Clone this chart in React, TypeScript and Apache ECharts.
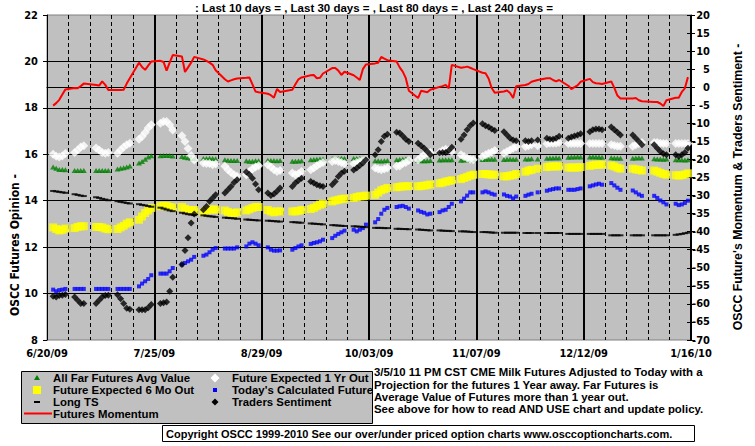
import React, { useEffect, useRef } from "react";
import * as echarts from "echarts";

// ---- x axis: days counted from 6/20/09, trading days Mon..Fri per week (null = holiday) ----
const xTickLabels = ["6/20/09", "7/25/09", "8/29/09", "10/03/09", "11/07/09", "12/12/09", "1/16/10"];
const rightTicksTitle = "OSCC Future's Momentum & Traders Sentiment -";
const leftTitle = "OSCC Futures Opinion -";
const topTitle = ": Last 10 days = , Last 30 days = , Last 80 days = , Last 240 days =";

// All Far Futures Avg Value (left axis)
const allFar = [
  15.45, 15.4, 15.35, 15.35, 15.33, 15.3, 15.3, 15.3, 15.3, null, 15.3, 15.3, 15.3, 15.3, 15.3,
  15.37, 15.4, 15.42, 15.45, 15.5, 15.62, 15.69, 15.79, 15.88, 15.94, 15.94, 15.95, 15.95, 15.95, 15.93,
  15.9, 15.87, 15.85, 15.83, 15.82, 15.82, 15.82, 15.83, 15.82, 15.81, 15.76, 15.74, 15.73, 15.73, 15.73,
  15.72, 15.7, 15.7, 15.72, 15.72, 15.74, 15.73, 15.73, 15.72, 15.73, null, 15.7, 15.7, 15.71, 15.72,
  15.76, 15.78, 15.79, 15.8, 15.8, 15.82, 15.82, 15.82, 15.83, 15.82, 15.82, 15.82, 15.83, 15.82, 15.81,
  15.72, 15.72, 15.71, 15.72, 15.73, 15.77, 15.78, 15.79, 15.8, 15.79, 15.73, 15.72, 15.72, 15.72, 15.73,
  15.75, 15.76, 15.76, 15.77, 15.76, 15.74, 15.75, 15.76, 15.76, 15.77, 15.78, 15.79, 15.79, 15.8, 15.79,
  15.78, 15.79, 15.8, 15.79, 15.79, 15.8, 15.8, 15.81, null, 15.8, 15.83, 15.84, 15.84, 15.85, 15.84,
  15.87, 15.88, 15.88, 15.89, 15.88, 15.88, 15.89, 15.88, 15.88, 15.87, 15.85, 15.84, 15.84, 15.83, null,
  15.83, 15.84, 15.85, 15.84, null, 15.81, 15.8, 15.8, 15.79, 15.8, 15.77, 15.76, 15.76, 15.75, 15.76,
];

// Future Expected 1 Yr Out (left axis)
const oneYearOut = [
  16.0, 15.92, 15.88, 15.93, 16.03, 16.08, 16.19, 16.31, 16.37, null, 16.27, 16.19, 16.08, 16.05, 16.08,
  16.05, 16.19, 16.31, 16.41, 16.48, 16.65, 16.77, 16.94, 17.13, 17.27, 17.34, 17.41, 17.41, 17.27, 17.05,
  16.8, 16.55, 16.25, 15.95, 15.75, 15.62, 15.6, 15.6, 15.55, 15.58, 15.48, 15.33, 15.22, 15.12, 15.05,
  15.12, 15.26, 15.37, 15.45, 15.51, 15.55, 15.45, 15.33, 15.26, 15.3, null, 15.19, 15.12, 15.16, 15.26,
  15.33, 15.41, 15.51, 15.59, 15.65, 15.69, 15.73, 15.69, 15.65, 15.59, 15.59, 15.65, 15.69, 15.73, 15.76,
  15.41, 15.37, 15.33, 15.37, 15.41, 15.48, 15.5, 15.6, 15.65, 15.73, 15.76, 15.88, 15.98, 16.05, 16.08,
  16.08, 16.16, 16.22, 16.19, 16.12, 15.98, 15.91, 15.84, 15.79, 15.76, 15.91, 15.98, 16.05, 16.09, 16.16,
  16.05, 16.12, 16.19, 16.26, 16.33, 16.34, 16.37, 16.41, null, 16.37, 16.45, 16.48, 16.48, 16.48, 16.51,
  16.47, 16.46, 16.46, 16.46, 16.47, 16.46, 16.46, 16.46, 16.46, 16.46, 16.41, 16.38, 16.35, 16.35, null,
  16.35, 16.41, 16.46, 16.51, null, 16.51, 16.51, 16.48, 16.46, 16.46, 16.46, 16.46, 16.46, 16.46, 16.46,
];

// Future Expected 6 Mo Out (left axis)
const sixMonthOut = [
  12.85, 12.78, 12.72, 12.75, 12.8, 12.82, 12.87, 12.9, 12.9, null, 12.87, 12.87, 12.85, 12.8, 12.77,
  12.78, 12.85, 12.92, 13.01, 13.07, 13.18, 13.32, 13.47, 13.58, 13.69, 13.76, 13.78, 13.78, 13.73, 13.71,
  13.73, 13.65, 13.6, 13.58, 13.6, 13.5, 13.58, 13.62, 13.62, 13.62, 13.58, 13.52, 13.47, 13.47, 13.5,
  13.58, 13.63, 13.69, 13.73, 13.73, 13.6, 13.54, 13.5, 13.54, 13.54, null, 13.54, 13.54, 13.56, 13.6,
  13.64, 13.69, 13.76, 13.83, 13.87, 13.97, 14.01, 14.04, 14.07, 14.09, 14.12, 14.16, 14.19, 14.19, 14.22,
  14.25, 14.35, 14.45, 14.5, 14.55, 14.58, 14.6, 14.62, 14.62, 14.63, 14.62, 14.63, 14.65, 14.67, 14.7,
  14.75, 14.78, 14.82, 14.85, 14.88, 14.93, 14.98, 15.03, 15.08, 15.12, 15.15, 15.15, 15.13, 15.12, 15.12,
  15.05, 15.05, 15.08, 15.1, 15.15, 15.25, 15.3, 15.33, null, 15.38, 15.45, 15.47, 15.48, 15.48, 15.48,
  15.43, 15.43, 15.43, 15.43, 15.45, 15.5, 15.53, 15.55, 15.55, 15.55, 15.52, 15.48, 15.42, 15.38, null,
  15.38, 15.35, 15.33, 15.3, null, 15.3, 15.25, 15.2, 15.15, 15.12, 15.1, 15.08, 15.1, 15.13, 15.18,
];

// Today's Calculated Future (left axis)
const todaysFuture = [
  10.17, 10.1, 10.15, 10.17, 10.2, 10.2, 10.2, 10.2, 10.2, null, 10.2, 10.2, 10.2, 10.2, 10.2,
  10.2, 10.2, 10.2, 10.2, 10.2, 10.31, 10.43, 10.53, 10.63, 10.79, 10.86, 10.86, 10.86, 10.96, 11.1,
  11.25, 11.32, 11.39, 11.46, 11.58, 11.63, 11.68, 11.78, 11.89, 11.96, 11.94, 11.94, 11.94, 11.94, 11.99,
  12.03, 12.15, 12.21, 12.15, 12.08, 11.99, 11.89, 11.85, 11.85, 11.86, null, 11.89, 11.96, 12.03, 12.08,
  12.14, 12.18, 12.21, 12.25, 12.32, 12.39, 12.49, 12.57, 12.64, 12.71, 12.75, 12.68, 12.75, 12.82, 12.97,
  13.07, 13.21, 13.44, 13.61, 13.69, 13.73, 13.76, 13.78, 13.73, 13.66, 13.58, 13.52, 13.48, 13.41, 13.44,
  13.51, 13.58, 13.61, 13.73, 13.87, 13.97, 14.09, 14.22, 14.36, 14.36, 14.36, 14.4, 14.36, 14.3, 14.26,
  14.27, 14.21, 14.18, 14.1, 14.18, 14.21, 14.26, 14.3, null, 14.36, 14.43, 14.47, 14.5, 14.53, 14.53,
  14.47, 14.47, 14.47, 14.5, 14.53, 14.62, 14.66, 14.7, 14.73, 14.69, 14.76, 14.66, 14.56, 14.47, null,
  14.44, 14.36, 14.27, 14.21, null, 14.21, 14.12, 14.01, 13.93, 13.84, 13.87, 13.81, 13.84, 13.9, 14.0,
];

// Long TS (left axis)
const longTS = [
  14.42, 14.4, 14.38, 14.36, 14.34, 14.28, 14.25, 14.22, 14.2, null, 14.15, 14.12, 14.08, 14.05, 14.02,
  13.98, 13.95, 13.93, 13.9, 13.88, 13.85, 13.82, 13.8, 13.77, 13.74, 13.7, 13.66, 13.62, 13.58, 13.55,
  13.48, 13.45, 13.42, 13.4, 13.38, 13.37, 13.35, 13.33, 13.32, 13.3, 13.27, 13.26, 13.25, 13.24, 13.22,
  13.19, 13.18, 13.17, 13.16, 13.15, 13.14, 13.13, 13.12, 13.11, 13.1, null, 13.08, 13.07, 13.06, 13.05,
  13.02, 13.01, 13.0, 12.99, 12.98, 12.95, 12.94, 12.93, 12.92, 12.91, 12.9, 12.89, 12.88, 12.87, 12.86,
  12.83, 12.83, 12.83, 12.82, 12.82, 12.79, 12.79, 12.78, 12.78, 12.77, 12.76, 12.75, 12.74, 12.73, 12.72,
  12.72, 12.71, 12.7, 12.7, 12.69, 12.68, 12.68, 12.67, 12.66, 12.65, 12.65, 12.65, 12.64, 12.63, 12.62,
  12.62, 12.62, 12.62, 12.62, 12.62, 12.61, 12.61, 12.61, null, 12.61, 12.61, 12.61, 12.61, 12.61, 12.61,
  12.57, 12.57, 12.57, 12.57, 12.57, 12.57, 12.57, 12.57, 12.57, 12.57, 12.51, 12.51, 12.51, 12.51, null,
  12.51, 12.51, 12.51, 12.51, null, 12.51, 12.51, 12.51, 12.51, 12.51, 12.53, 12.55, 12.57, 12.6, 12.62,
];

// Traders Sentiment (right axis)
const tradersSentiment = [
  -57.9, -58.1, -57.7, -57.6, -57.4, -58.1, -59.0, -59.9, -59.9, null, -59.9, -59.0, -58.1, -57.7, -57.6,
  -57.5, -58.6, -59.9, -61.2, -61.5, -61.6, -61.6, -61.6, -61.1, -60.2, -59.9, -59.7, -59.5, -56.5, -52.6,
  -49.1, -45.2, -41.7, -37.6, -35.1, -33.9, -33.0, -31.6, -30.7, -29.8, -29.3, -28.4, -27.5, -26.4, -25.6,
  -23.5, -24.2, -25.2, -26.8, -28.4, -29.3, -30.0, -29.6, -28.8, -27.9, null, -27.5, -26.5, -25.8, -25.2,
  -26.1, -26.5, -27.0, -27.3, -27.5, -27.0, -26.1, -24.7, -23.8, -23.3, -22.9, -22.4, -21.7, -21.0, -20.1,
  -18.7, -17.3, -15.0, -13.6, -13.0, -12.5, -12.7, -13.5, -14.4, -15.0, -15.5, -16.2, -16.9, -17.8, -18.7,
  -18.2, -18.1, -18.1, -17.5, -16.6, -14.4, -13.2, -11.8, -10.7, -9.9, -10.1, -10.7, -11.0, -11.6, -12.0,
  -12.3, -13.2, -14.1, -14.6, -14.8, -14.8, -15.0, -14.8, null, -14.6, -14.1, -14.4, -14.4, -14.1, -13.6,
  -14.1, -13.8, -13.5, -13.2, -12.9, -12.3, -11.8, -11.6, -11.6, -11.8, -11.0, -11.8, -12.5, -13.2, null,
  -13.2, -14.1, -15.0, -15.9, null, -15.9, -16.9, -17.8, -18.4, -18.7, -18.7, -19.2, -18.7, -18.1, -16.9,
];

// Futures Momentum (right axis)
const futuresMomentum = [
  -5.1, -4.4, -3.5, -2.0, -0.6, -0.2, -0.3, 0.3, 1.0, null, 0.6, 0.45, 1.6, 0.65, -0.8,
  -0.8, -0.8, -0.7, 1.0, 2.5, 6.8, 5.6, 4.8, 6.0, 7.1, 7.3, 7.0, 4.6, 6.8, 8.9,
  8.5, 4.2, 5.5, 6.8, 8.4, 7.7, 7.3, 6.8, 6.2, 4.7, 2.2, 1.6, 1.9, 2.2, 2.4,
  2.6, 2.7, 0.8, -1.2, -1.4, -1.8, -2.2, -2.9, -0.5, -1.3, null, -0.7, 0.8, 2.2, 2.7,
  3.3, 3.4, 2.5, 2.6, 3.8, 5.3, 5.3, 4.6, 3.4, 4.3, 3.3, 2.7, 2.0, 5.0, 6.3,
  6.6, 6.8, 8.4, 7.9, 7.5, 7.1, 5.5, 4.3, 2.5, -1.0, -3.0, -1.0, -1.2, -1.4, -0.7,
  0.1, 0.3, 0.65, -0.3, 6.2, 5.4, 5.5, 5.7, 5.4, 5.0, 4.0, 3.9, 2.4, -0.2, -1.5,
  -1.2, -0.9, -1.6, -3.0, 0.3, 0.6, 0.9, 1.5, null, 2.0, 2.5, 2.5, 2.0, 1.6, 2.0,
  0.4, -0.5, 0.0, 0.5, 1.5, 2.3, 1.4, 1.1, 1.0, 0.9, 1.6, -0.2, -2.3, -3.1, null,
  -3.1, -3.0, -3.6, -3.9, null, -4.1, -4.1, -4.5, -5.2, -3.6, -2.9, -2.9, -1.3, -0.3, 2.8,
];

const infoLines = [
  "3/5/10 11 PM CST CME Milk Futures Adjusted to Today with a",
  "Projection for the futures 1 Year away. Far Futures is",
  "Average Value of Futures more than 1 year out.",
  "See above for how to read AND USE chart and update policy.",
];
const copyright = "Copyright OSCC 1999-2010 See our over/under priced option charts www.osccoptioncharts.com.";

const NARROW = "'Liberation Sans Narrow', 'Arial Narrow', 'DejaVu Sans Condensed', sans-serif";
const WIDE = "'Liberation Sans', Arial, sans-serif";

// slot index -> day offset from 6/20/09 (Mon..Fri of each week)
const slotDay = (i: number) => 7 * Math.floor(i / 5) + 2 + (i % 5);
const pairs = (vals: (number | null)[]) =>
  vals.map((v, i) => (v === null ? null : [slotDay(i), v])).filter((p) => p !== null);

export default function App() {
  const ref = useRef<HTMLDivElement>(null);
  useEffect(() => {
    if (!ref.current) return;
    const chart = echarts.init(ref.current, null, { renderer: "svg" });
    const axisFont = { fontFamily: NARROW, fontWeight: "bold" as const, fontSize: 11, color: "#000" };
    const legendRows = [378, 390, 402, 413.5];
    const col1 = 37, col2 = 215;
    const txt = (t: string, font: string, align: string) => ({
      text: t, font, fill: "#000", textAlign: align, textVerticalAlign: "middle", align, verticalAlign: "middle",
    });
    const legendText = (x: number, y: number, t: string) => ({
      type: "text", x, y, style: txt(t, `bold 11.4px ${WIDE}`, "left"),
    });
    chart.setOption({
      animation: false,
      backgroundColor: "#fff",
      grid: { left: 47, right: 64, top: 15, bottom: 106, show: true, backgroundColor: "#C0C0C0", borderColor: "#808080", borderWidth: 1 },
      xAxis: {
        type: "value", min: 0, max: 210, interval: 35,
        axisLine: { lineStyle: { color: "#000", width: 1 } },
        axisTick: { show: true, length: 4, lineStyle: { color: "#000" } },
        minorTick: { show: true, splitNumber: 5, length: 3, lineStyle: { color: "#000" } },
        splitLine: { show: true, showMinLine: false, lineStyle: { color: "#000", width: 2 } },
        minorSplitLine: { show: true, lineStyle: { color: "#000", width: 1, type: [4, 3] } },
        axisLabel: { ...axisFont, margin: 8, formatter: (v: number) => xTickLabels[Math.round(v / 35)] ?? "" },
      },
      yAxis: [
        {
          type: "value", min: 8, max: 22, interval: 2, position: "left",
          axisLine: { show: true, lineStyle: { color: "#000", width: 1 } },
          axisTick: { show: true, length: 4, lineStyle: { color: "#000" } },
          splitLine: { show: true, showMinLine: false, showMaxLine: false, lineStyle: { color: "#000", width: 1 } },
          axisLabel: { ...axisFont, margin: 9 },
        },
        {
          type: "value", min: -70, max: 20, interval: 5, position: "right",
          axisLine: { show: true, lineStyle: { color: "#000", width: 1 } },
          axisTick: { show: true, length: 4, lineStyle: { color: "#000" } },
          splitLine: { show: false },
          axisLabel: { ...axisFont, margin: 19, align: "right" },
        },
        {
          type: "value", min: -70, max: 20, interval: 5, position: "right",
          axisLine: { show: false },
          axisTick: { show: true, inside: true, length: 4, lineStyle: { color: "#000" } },
          splitLine: { show: false },
          axisLabel: { show: false },
        },
      ],
      series: [
        { name: "All Far Futures Avg Value", type: "scatter", yAxisIndex: 0, symbol: "triangle", symbolSize: [6, 5], itemStyle: { color: "#008000" }, data: pairs(allFar), silent: true },
        { name: "Future Expected 1 Yr Out", type: "scatter", yAxisIndex: 0, symbol: "diamond", symbolSize: [9, 9], itemStyle: { color: "#FFFFFF" }, data: pairs(oneYearOut), silent: true },
        { name: "Future Expected 6 Mo Out", type: "scatter", yAxisIndex: 0, symbol: "rect", symbolSize: [8, 8], itemStyle: { color: "#FFFF00" }, data: pairs(sixMonthOut), silent: true },
        { name: "Today's Calculated Future", type: "scatter", yAxisIndex: 0, symbol: "rect", symbolSize: [4, 4], itemStyle: { color: "#0000FF" }, data: pairs(todaysFuture), silent: true },
        { name: "Long TS", type: "scatter", yAxisIndex: 0, symbol: "rect", symbolSize: [6, 2], itemStyle: { color: "#000" }, data: pairs(longTS), silent: true },
        { name: "Traders Sentiment", type: "scatter", yAxisIndex: 1, symbol: "diamond", symbolSize: [7, 7], itemStyle: { color: "#000" }, data: pairs(tradersSentiment), silent: true },
        { name: "Futures Momentum", type: "line", yAxisIndex: 1, showSymbol: false, lineStyle: { color: "#FF0000", width: 2 }, itemStyle: { color: "#FF0000" }, data: pairs(futuresMomentum), silent: true },
      ],
      graphic: [
        { type: "text", x: 374, y: 7.5, style: txt(topTitle, `bold 11.5px ${WIDE}`, "center") },
        { type: "text", x: 14.5, y: 245, rotation: Math.PI / 2, style: txt(leftTitle, `bold 12px ${NARROW}`, "center") },
        { type: "text", x: 738, y: 187, rotation: Math.PI / 2, style: txt(rightTicksTitle, `bold 12.3px ${WIDE}`, "center") },
        ...infoLines.map((t, i) => ({
          type: "text", x: 374, y: [372, 384.5, 396.5, 408.5][i], style: txt(t, `bold 11.4px ${WIDE}`, "left"),
        })),
        { type: "rect", shape: { x: 21.5, y: 371.5, width: 351, height: 52 }, style: { fill: "#C0C0C0", stroke: "#000", lineWidth: 1 } },
        { type: "polygon", shape: { points: [[col1, legendRows[0] - 3], [col1 - 3, legendRows[0] + 2], [col1 + 3, legendRows[0] + 2]] }, style: { fill: "#008000" } },
        { type: "rect", shape: { x: col1 - 4, y: legendRows[1] - 4, width: 8, height: 8 }, style: { fill: "#FFFF00" } },
        { type: "rect", shape: { x: col1 - 3, y: legendRows[2] - 1, width: 6, height: 2 }, style: { fill: "#000" } },
        { type: "line", shape: { x1: 24, y1: legendRows[3], x2: 52, y2: legendRows[3] }, style: { stroke: "#FF0000", lineWidth: 2 } },
        { type: "polygon", shape: { points: [[col2, legendRows[0] - 4.5], [col2 + 4.5, legendRows[0]], [col2, legendRows[0] + 4.5], [col2 - 4.5, legendRows[0]]] }, style: { fill: "#FFFFFF" } },
        { type: "rect", shape: { x: col2 - 2, y: legendRows[1] - 2, width: 4, height: 4 }, style: { fill: "#0000FF" } },
        { type: "polygon", shape: { points: [[col2, legendRows[2] - 3.5], [col2 + 3.5, legendRows[2]], [col2, legendRows[2] + 3.5], [col2 - 3.5, legendRows[2]]] }, style: { fill: "#000" } },
        legendText(53, legendRows[0], "All Far Futures Avg Value"),
        legendText(53, legendRows[1], "Future Expected 6 Mo Out"),
        legendText(53, legendRows[2], "Long TS"),
        legendText(53, legendRows[3], "Futures Momentum"),
        legendText(232, legendRows[0], "Future Expected 1 Yr Out"),
        legendText(232, legendRows[1], "Today's Calculated Future"),
        legendText(232, legendRows[2], "Traders Sentiment"),
        { type: "rect", shape: { x: 162.5, y: 425.5, width: 532, height: 16 }, style: { fill: "#FFFFFF", stroke: "#000", lineWidth: 1 } },
        { type: "text", x: 166, y: 433.5, style: txt(copyright, `bold 11px ${WIDE}`, "left") },
      ],
    });
    return () => chart.dispose();
  }, []);
  return <div ref={ref} style={{ width: 755, height: 446, position: "absolute", left: 0, top: 0 }} />;
}
